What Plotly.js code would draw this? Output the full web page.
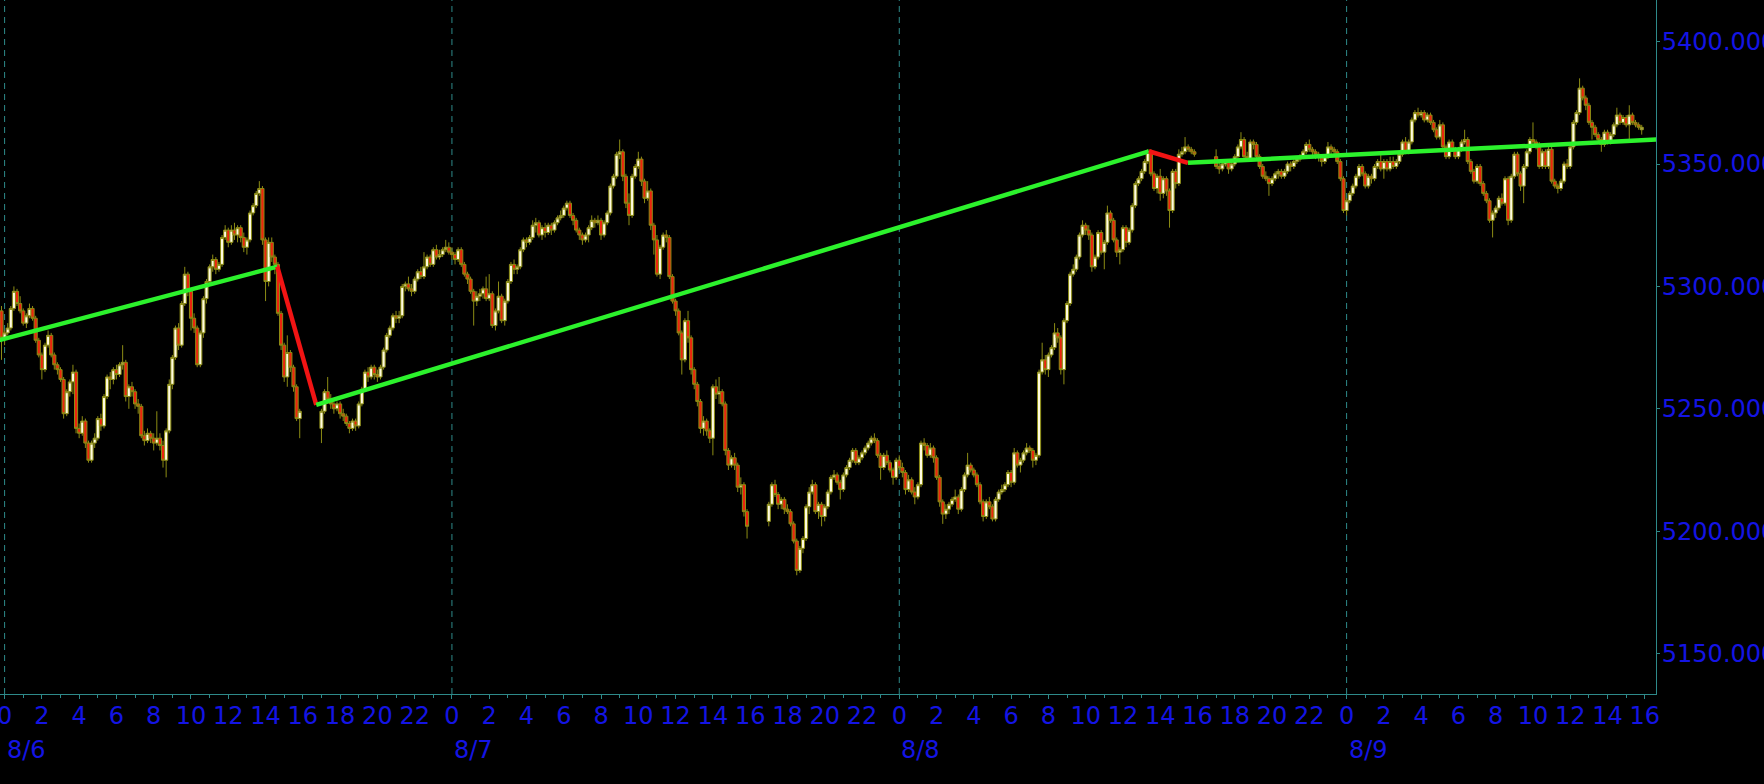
<!DOCTYPE html>
<html><head><meta charset="utf-8">
<script src="https://cdn.plot.ly/plotly-3.0.1.min.js"></script>
<style>html,body{margin:0;padding:0;background:#000;overflow:hidden}#chart{width:1764px;height:784px}</style>
</head><body><div id="chart"></div>
<script>
// ---- DATA (hours measured from 8/6 00:00, 10-minute bars) ----
const sessionStart = [-1/6, 17, 41, 65];   // first bar of each trading session
const dayStarts = [0, 24, 48, 72];
const dayLabels = ['8/6', '8/7', '8/8', '8/9'];
const hourLabels = ['0','2','4','6','8','10','12','14','16','18','20','22'];
const lastHourTick = 88;
const yTicks = [5150, 5200, 5250, 5300, 5350, 5400];

// session A: 8/5 23:50 - 8/6 15:50
const aOpen = [5290,5279,5281,5283,5291,5298,5293,5290,5285,5288,5291,5287,5278,5272,5266,5276,5280,5272,5268,5266,5262,5248,5257,5261,5265,5242,5240,5245,5236,5229,5236,5238,5246,5243,5255,5263,5262,5266,5264,5268,5269,5255,5259,5257,5252,5251,5239,5237,5240,5238,5236,5238,5235,5229,5241,5260,5271,5283,5276,5293,5305,5298,5287,5283,5268,5281,5295,5302,5308,5311,5307,5309,5320,5323,5318,5323,5321,5324,5320,5316,5319,5330,5333,5338,5340,5319,5302,5318,5312,5309,5289,5276,5263,5273,5267,5259,5246];
const aHigh = [5292,5282,5285,5292,5300,5299,5296,5291,5289,5293,5292,5288,5279,5273,5277,5282,5281,5273,5269,5267,5263,5258,5262,5268,5266,5244,5247,5246,5237,5237,5240,5247,5248,5256,5264,5265,5267,5268,5269,5276,5270,5260,5261,5258,5254,5252,5241,5242,5241,5240,5249,5240,5237,5242,5262,5272,5284,5285,5294,5308,5306,5299,5289,5284,5282,5296,5303,5309,5313,5312,5310,5321,5325,5324,5325,5326,5325,5325,5322,5320,5331,5334,5339,5343,5341,5320,5320,5320,5313,5310,5290,5277,5280,5274,5268,5260,5250];
const aLow = [5270,5276,5280,5282,5290,5292,5289,5284,5283,5287,5286,5277,5271,5262,5265,5275,5271,5266,5264,5261,5246,5247,5255,5256,5240,5238,5239,5234,5228,5228,5234,5237,5241,5242,5254,5258,5260,5262,5263,5266,5253,5250,5255,5250,5248,5238,5235,5236,5236,5233,5235,5233,5226,5222,5240,5258,5270,5274,5275,5292,5296,5282,5281,5267,5267,5279,5293,5301,5306,5305,5306,5308,5319,5316,5317,5319,5318,5318,5314,5313,5318,5329,5332,5337,5317,5294,5300,5310,5305,5288,5274,5261,5259,5265,5257,5245,5238];
const aClose = [5279,5281,5283,5291,5298,5293,5290,5285,5288,5291,5287,5278,5272,5266,5276,5280,5272,5268,5266,5262,5248,5257,5261,5265,5242,5240,5245,5236,5229,5236,5238,5246,5243,5255,5263,5262,5266,5264,5268,5269,5255,5259,5257,5252,5251,5239,5237,5240,5238,5236,5238,5235,5229,5241,5260,5271,5283,5276,5293,5305,5298,5287,5283,5268,5281,5295,5302,5308,5311,5307,5309,5320,5323,5318,5323,5321,5324,5320,5316,5319,5330,5333,5338,5340,5319,5302,5318,5312,5309,5289,5276,5263,5273,5267,5259,5246,5249];

// session B: 8/6 17:00 - 8/7 15:50
const bOpen = [5242,5249,5257,5254,5252,5250,5252,5248,5247,5244,5242,5245,5243,5252,5258,5265,5263,5267,5264,5263,5267,5274,5280,5283,5288,5287,5288,5300,5301,5299,5298,5303,5306,5304,5308,5312,5309,5315,5312,5313,5315,5316,5314,5313,5311,5315,5309,5305,5303,5298,5294,5296,5297,5299,5295,5297,5284,5290,5296,5286,5294,5302,5309,5307,5308,5315,5319,5318,5320,5325,5326,5321,5324,5322,5325,5323,5326,5328,5329,5332,5334,5329,5327,5323,5321,5319,5321,5324,5327,5326,5327,5321,5326,5330,5341,5345,5354,5355,5345,5334,5329,5345,5349,5352,5343,5336,5339,5325,5319,5305,5316,5321,5320,5304,5294,5290,5281,5270,5286,5279,5266,5260,5253,5242,5245,5241,5238,5259,5256,5257,5252,5233,5227,5230,5227,5218,5219,5208];
const bHigh = [5250,5258,5263,5256,5253,5253,5253,5250,5248,5245,5246,5246,5253,5259,5266,5267,5268,5268,5266,5268,5275,5281,5284,5289,5290,5290,5301,5302,5304,5301,5304,5307,5308,5314,5313,5313,5316,5317,5315,5316,5319,5318,5316,5314,5316,5316,5310,5306,5304,5299,5298,5299,5300,5304,5305,5298,5291,5302,5297,5295,5303,5310,5311,5309,5316,5320,5320,5321,5327,5328,5327,5325,5326,5326,5326,5327,5329,5331,5333,5335,5335,5330,5328,5324,5322,5322,5325,5329,5328,5329,5328,5327,5331,5342,5346,5355,5360,5356,5346,5338,5346,5350,5355,5353,5344,5343,5340,5326,5321,5317,5322,5323,5321,5305,5295,5291,5282,5287,5290,5280,5267,5261,5254,5247,5246,5242,5260,5262,5263,5258,5253,5234,5231,5232,5228,5222,5220,5209];
const bLow = [5236,5248,5252,5250,5248,5249,5246,5245,5243,5240,5241,5241,5242,5251,5257,5261,5262,5262,5261,5262,5266,5273,5279,5282,5285,5285,5287,5298,5298,5296,5297,5302,5303,5303,5307,5308,5308,5311,5311,5312,5314,5313,5311,5309,5310,5308,5304,5301,5297,5284,5292,5294,5295,5294,5294,5283,5282,5289,5285,5284,5293,5301,5305,5305,5307,5314,5316,5317,5319,5322,5320,5319,5320,5321,5321,5322,5325,5327,5328,5331,5328,5325,5322,5319,5317,5318,5318,5323,5324,5325,5319,5320,5325,5329,5340,5344,5352,5343,5332,5325,5328,5344,5348,5341,5334,5335,5323,5313,5304,5303,5315,5318,5303,5293,5288,5280,5264,5269,5277,5264,5258,5251,5240,5239,5239,5236,5231,5254,5252,5251,5231,5225,5226,5225,5216,5215,5206,5197];
const bClose = [5249,5257,5254,5252,5250,5252,5248,5247,5244,5242,5245,5243,5252,5258,5265,5263,5267,5264,5263,5267,5274,5280,5283,5288,5287,5288,5300,5301,5299,5298,5303,5306,5304,5308,5312,5309,5315,5312,5313,5315,5316,5314,5313,5311,5315,5309,5305,5303,5298,5294,5296,5297,5299,5295,5297,5284,5290,5296,5286,5294,5302,5309,5307,5308,5315,5319,5318,5320,5325,5326,5321,5324,5322,5325,5323,5326,5328,5329,5332,5334,5329,5327,5323,5321,5319,5321,5324,5327,5326,5327,5321,5326,5330,5341,5345,5354,5355,5345,5334,5329,5345,5349,5352,5343,5336,5339,5325,5319,5305,5316,5321,5320,5304,5294,5290,5281,5270,5286,5279,5266,5260,5253,5242,5245,5241,5238,5259,5256,5257,5252,5233,5227,5230,5227,5218,5219,5208,5202];

// session C: 8/7 17:00 - 8/8 15:50
const cOpen = [5204,5211,5219,5215,5211,5213,5209,5208,5203,5196,5184,5193,5197,5210,5216,5219,5208,5211,5206,5210,5216,5222,5223,5220,5217,5223,5226,5229,5233,5228,5230,5232,5234,5236,5238,5237,5231,5226,5231,5228,5225,5222,5229,5226,5224,5217,5221,5216,5214,5219,5236,5235,5231,5234,5230,5222,5212,5207,5209,5211,5213,5214,5209,5217,5223,5227,5225,5223,5219,5212,5206,5212,5210,5205,5213,5216,5217,5219,5224,5220,5232,5227,5229,5232,5234,5233,5229,5231,5265,5270,5266,5272,5275,5281,5279,5266,5286,5293,5305,5307,5312,5321,5325,5323,5321,5308,5312,5322,5314,5318,5330,5327,5319,5314,5315,5324,5318,5323,5333,5342,5344,5347,5351,5355,5346,5340,5345,5338,5344,5339,5331,5347,5342,5354,5355,5357,5356,5355];
const cHigh = [5212,5220,5221,5216,5214,5214,5211,5209,5204,5197,5194,5198,5211,5218,5221,5220,5212,5212,5211,5217,5223,5225,5224,5221,5224,5227,5230,5234,5234,5231,5233,5235,5237,5239,5240,5238,5232,5232,5233,5229,5226,5230,5231,5228,5225,5223,5222,5218,5220,5237,5238,5236,5236,5235,5231,5223,5213,5211,5212,5214,5217,5215,5218,5224,5232,5228,5226,5224,5220,5213,5213,5214,5211,5214,5217,5219,5220,5225,5225,5234,5233,5230,5233,5236,5235,5234,5232,5266,5277,5272,5273,5276,5285,5283,5280,5287,5294,5306,5309,5313,5322,5327,5326,5325,5322,5313,5323,5323,5319,5333,5331,5328,5320,5316,5325,5325,5324,5334,5343,5345,5348,5352,5356,5356,5347,5346,5348,5345,5345,5340,5348,5348,5356,5357,5361,5358,5357,5356];
const cLow = [5202,5210,5214,5209,5209,5207,5207,5202,5195,5182,5183,5191,5196,5207,5215,5207,5205,5202,5204,5209,5215,5221,5219,5213,5216,5222,5225,5228,5227,5227,5229,5231,5233,5235,5236,5230,5221,5225,5227,5224,5219,5221,5225,5222,5215,5216,5215,5211,5213,5218,5233,5230,5230,5228,5221,5210,5203,5205,5207,5210,5212,5207,5208,5216,5222,5224,5222,5218,5211,5204,5205,5209,5204,5204,5212,5215,5216,5218,5218,5219,5226,5224,5228,5231,5232,5226,5227,5230,5264,5264,5263,5271,5274,5277,5264,5260,5285,5292,5304,5306,5311,5320,5321,5319,5306,5307,5311,5313,5307,5317,5326,5318,5312,5309,5314,5316,5317,5322,5332,5341,5343,5346,5350,5345,5339,5338,5335,5336,5337,5324,5330,5340,5341,5353,5354,5355,5354,5353];
const cClose = [5211,5219,5215,5211,5213,5209,5208,5203,5196,5184,5193,5197,5210,5216,5219,5208,5211,5206,5210,5216,5222,5223,5220,5217,5223,5226,5229,5233,5228,5230,5232,5234,5236,5238,5237,5231,5226,5231,5228,5225,5222,5229,5226,5224,5217,5221,5216,5214,5219,5236,5235,5231,5234,5230,5222,5212,5207,5209,5211,5213,5214,5209,5217,5223,5227,5225,5223,5219,5212,5206,5212,5210,5205,5213,5216,5217,5219,5224,5220,5232,5227,5229,5232,5234,5233,5229,5231,5265,5270,5266,5272,5275,5281,5279,5266,5286,5293,5305,5307,5312,5321,5325,5323,5321,5308,5312,5322,5314,5318,5330,5327,5319,5314,5315,5324,5318,5323,5333,5342,5344,5347,5351,5355,5346,5340,5345,5338,5344,5339,5331,5347,5342,5354,5355,5357,5356,5355,5354];

// session D: 8/8 17:00 - 8/9 15:50
const dOpen = [5353,5349,5348,5350,5351,5348,5350,5353,5357,5360,5353,5352,5359,5358,5353,5349,5345,5344,5342,5344,5346,5347,5345,5347,5350,5349,5351,5352,5353,5355,5358,5356,5355,5354,5353,5351,5353,5357,5356,5355,5351,5344,5331,5335,5338,5341,5345,5349,5346,5341,5345,5344,5349,5351,5348,5351,5348,5351,5349,5351,5354,5359,5355,5359,5368,5371,5370,5371,5368,5370,5367,5364,5361,5366,5357,5353,5359,5356,5353,5356,5359,5360,5351,5347,5343,5349,5342,5338,5335,5327,5330,5332,5336,5334,5344,5327,5345,5354,5346,5341,5349,5355,5360,5359,5358,5349,5355,5349,5356,5343,5341,5340,5343,5350,5349,5357,5367,5371,5381,5377,5374,5367,5365,5362,5360,5358,5363,5359,5362,5366,5370,5367,5369,5366,5370,5367,5366,5364];
const dHigh = [5356,5351,5351,5352,5352,5351,5354,5358,5363,5361,5355,5360,5360,5359,5354,5350,5347,5345,5345,5347,5348,5348,5348,5351,5351,5352,5353,5354,5356,5359,5360,5357,5356,5355,5354,5354,5359,5358,5357,5356,5352,5345,5336,5339,5342,5346,5350,5350,5347,5346,5346,5350,5352,5354,5352,5352,5353,5353,5352,5355,5360,5361,5360,5369,5372,5373,5372,5372,5371,5371,5368,5365,5368,5367,5358,5360,5360,5357,5357,5360,5364,5361,5352,5348,5350,5350,5343,5339,5336,5331,5333,5337,5338,5345,5345,5346,5355,5355,5347,5350,5356,5361,5367,5360,5359,5356,5356,5357,5357,5344,5342,5344,5351,5352,5358,5368,5372,5385,5382,5378,5375,5368,5366,5363,5361,5364,5364,5363,5367,5373,5371,5370,5370,5374,5371,5368,5367,5366];
const dLow = [5348,5346,5347,5349,5346,5347,5349,5352,5356,5352,5351,5351,5356,5352,5348,5344,5343,5337,5341,5343,5344,5344,5344,5346,5347,5348,5350,5351,5352,5354,5355,5353,5352,5351,5349,5350,5352,5354,5353,5350,5343,5330,5329,5334,5337,5340,5344,5345,5340,5340,5342,5343,5348,5347,5344,5347,5347,5348,5348,5350,5353,5354,5354,5358,5367,5369,5369,5367,5367,5366,5363,5360,5360,5355,5352,5352,5355,5352,5352,5355,5358,5350,5346,5342,5342,5341,5337,5334,5326,5320,5328,5331,5333,5333,5325,5326,5344,5345,5339,5334,5348,5354,5358,5356,5348,5348,5348,5348,5342,5340,5338,5339,5342,5348,5348,5356,5366,5370,5376,5372,5366,5360,5361,5359,5355,5357,5358,5358,5361,5365,5366,5366,5365,5360,5366,5365,5364,5362];
const dClose = [5349,5348,5350,5351,5348,5350,5353,5357,5360,5353,5352,5359,5358,5353,5349,5345,5344,5342,5344,5346,5347,5345,5347,5350,5349,5351,5352,5353,5355,5358,5356,5355,5354,5353,5351,5353,5357,5356,5355,5351,5344,5331,5335,5338,5341,5345,5349,5346,5341,5345,5344,5349,5351,5348,5351,5348,5351,5349,5351,5354,5359,5355,5359,5368,5371,5370,5371,5368,5370,5367,5364,5361,5366,5357,5353,5359,5356,5353,5356,5359,5360,5351,5347,5343,5349,5342,5338,5335,5327,5330,5332,5336,5334,5344,5327,5345,5354,5346,5341,5349,5355,5360,5359,5358,5349,5355,5349,5356,5343,5341,5340,5343,5350,5349,5357,5367,5371,5381,5377,5374,5367,5365,5362,5360,5358,5363,5359,5362,5366,5370,5367,5369,5366,5370,5367,5366,5365,5365];

// zigzag trend line vertices
const trendHours  = [-0.3, 14.63, 16.72, 61.39, 63.49, 88.7];
const trendValues = [5278.0, 5308.1, 5251.6, 5355.2, 5350.5, 5360.0];

// ---- BUILD ----
const sessions = [[aOpen,aHigh,aLow,aClose],[bOpen,bHigh,bLow,bClose],[cOpen,cHigh,cLow,cClose],[dOpen,dHigh,dLow,dClose]];
const X=[],O=[],H=[],L=[],C=[];
sessions.forEach((s,si)=>{
  s[0].forEach((v,i)=>{
    X.push(sessionStart[si] + i/6);
    O.push(s[0][i]); H.push(s[1][i]); L.push(s[2][i]); C.push(s[3][i]);
  });
});

const teal = '#2e8a8a';
const blue = '#1414e4';
const font = {family:'DejaVu Sans', size:24, color:blue};

const tickvals=[], ticktext=[];
for (let d=0; d<dayStarts.length; d++){
  hourLabels.forEach((lab,k)=>{
    const h = dayStarts[d] + k*2;
    if (h <= lastHourTick){ tickvals.push(h); ticktext.push(lab); }
  });
}

const traces = [{
  type:'candlestick', x:X, open:O, high:H, low:L, close:C,
  increasing:{line:{color:'#8c8c14', width:1}, fillcolor:'#fffbe0'},
  decreasing:{line:{color:'#8c8c14', width:1}, fillcolor:'#ec240e'},
  whiskerwidth:0, hoverinfo:'skip', showlegend:false
}];
for (let i=0;i<trendHours.length-1;i++){
  const up = trendValues[i+1] >= trendValues[i];
  traces.push({type:'scatter', mode:'lines', x:[trendHours[i],trendHours[i+1]], y:[trendValues[i],trendValues[i+1]],
    line:{color: up ? '#2cf22c' : '#f21414', width:4.5}, hoverinfo:'skip', showlegend:false});
}

const layout = {
  width:1764, height:784,
  paper_bgcolor:'#000000', plot_bgcolor:'#000000',
  margin:{l:0, r:108, t:0, b:90},
  showlegend:false,
  boxgap:0, boxgroupgap:0,
  xaxis:{type:'linear', range:[-0.247, 88.6], tickmode:'array', tickvals:tickvals, ticktext:ticktext,
    ticks:'outside', ticklen:4, tickcolor:teal, tickwidth:1, showline:true, linecolor:teal, linewidth:1,
    showgrid:false, zeroline:false, tickfont:font, rangeslider:{visible:false}, fixedrange:true,
    ticklabeloverflow:'allow', ticklabelstandoff:-4,
    minor:{tick0:0, dtick:1, ticks:'outside', ticklen:3, tickcolor:teal}},
  yaxis:{side:'right', range:[5133.5, 5417], tickmode:'array', tickvals:yTicks, ticktext:yTicks.map(v=>v.toFixed(3)),
    ticks:'outside', ticklen:3, tickcolor:teal, showline:true, linecolor:teal, linewidth:1,
    showgrid:false, zeroline:false, tickfont:font, fixedrange:true, automargin:false,
    ticklabeloverflow:'allow', ticklabelstandoff:-3},
  shapes: dayStarts.map(d=>({type:'line', xref:'x', yref:'paper', x0:d, x1:d, y0:0, y1:1, layer:'below',
    line:{color:teal, width:1, dash:'6px,5px'}})),
  annotations: dayStarts.map((d,i)=>({x:d, xref:'x', y:0, yref:'paper', xanchor:'left', yanchor:'middle',
    yshift:-56, text:dayLabels[i], showarrow:false, font:font}))
};

Plotly.newPlot('chart', traces, layout, {displayModeBar:false, staticPlot:true});
</script>
</body></html>
